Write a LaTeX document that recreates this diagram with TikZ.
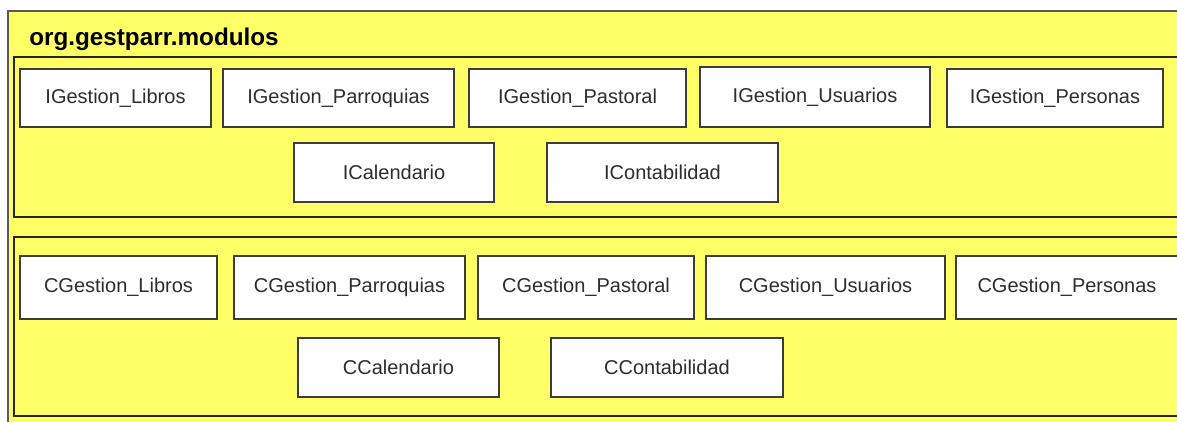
\documentclass[tikz,border=0pt]{standalone}
\usepackage{fontspec}
\setmainfont{Liberation Sans}
\definecolor{pkgyellow}{RGB}{255,255,102}
\definecolor{boxline}{RGB}{60,60,60}
\definecolor{boxtext}{RGB}{45,45,45}

\begin{document}
\begin{tikzpicture}[x=0.75pt,y=-0.75pt,
    cls/.style={draw=boxline,line width=1pt,fill=white,text=boxtext,inner sep=0pt,
        font=\fontsize{15}{18}\selectfont},
    bw/.style={minimum width=#1*0.75pt},
    bh/.style={minimum height=#1*0.75pt}]
    \useasboundingbox (0,0) rectangle (1177,421);
    \fill[white] (0,0) rectangle (1177,421);
    \draw[fill=pkgyellow,draw=black!65,line width=1.2pt] (8,440) -- (8,11) -- (1190,11) -- (1190,440);
    \draw[black!85,line width=1pt] (14,57) rectangle (1190,217);
    \draw[black!85,line width=1pt] (14,237) rectangle (1190,416);
    \node[anchor=base west,inner sep=0pt,font=\bfseries\fontsize{18.2}{22}\selectfont] (pkg) at (29,45) {org.gestparr.modulos};

    \node[cls,bw=191,bh=58] (ilibros) at (115.5,98) {IGestion\_Libros};
    \node[cls,bw=231,bh=58] (iparroquias) at (338.5,98) {IGestion\_Parroquias};
    \node[cls,bw=217,bh=58] (ipastoral) at (577.5,98) {IGestion\_Pastoral};
    \node[cls,bw=230,bh=60] (iusuarios) at (815,97) {IGestion\_Usuarios};
    \node[cls,bw=216,bh=58] (ipersonas) at (1055,98) {IGestion\_Personas};
    \node[cls,bw=200,bh=59] (icalendario) at (394,172.5) {ICalendario};
    \node[cls,bw=231,bh=59] (icontabilidad) at (662.5,172.5) {IContabilidad};

    \node[cls,bw=197,bh=63] (clibros) at (118.5,287.5) {CGestion\_Libros};
    \node[cls,bw=231,bh=63] (cparroquias) at (349.5,287.5) {CGestion\_Parroquias};
    \node[cls,bw=216,bh=63] (cpastoral) at (586,287.5) {CGestion\_Pastoral};
    \node[cls,bw=239,bh=63] (cusuarios) at (825.5,287.5) {CGestion\_Usuarios};
    \node[cls,bw=222,bh=63] (cpersonas) at (1067,287.5) {CGestion\_Personas};
    \node[cls,bw=201,bh=59] (ccalendario) at (398.5,367.5) {CCalendario};
    \node[cls,bw=232,bh=59] (ccontabilidad) at (667,367.5) {CContabilidad};
\end{tikzpicture}
\end{document}
